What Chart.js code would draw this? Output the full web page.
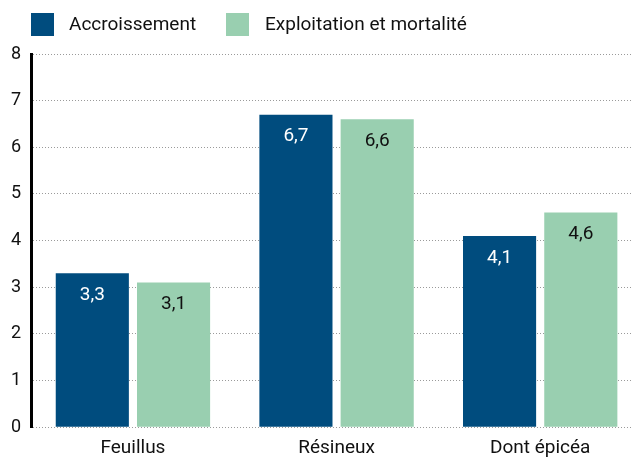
<!DOCTYPE html>
<html>
<head>
<meta charset="utf-8">
<script src="https://cdn.jsdelivr.net/npm/chart.js@4.4.0/dist/chart.umd.min.js"></script>
<style>
  html, body { margin: 0; padding: 0; background: #fff; overflow: hidden; }
  #wrap { width: 642px; height: 470px; }
</style>
</head>
<body>
<div id="wrap"><canvas id="chart"></canvas></div>
<script>
'use strict';

// ---- Data ----
const categories    = ['Feuillus', 'Résineux', 'Dont épicéa'];
const accroissement = [3.3, 6.7, 4.1];
const exploitation  = [3.1, 6.6, 4.6];
const seriesNames   = ['Accroissement', 'Exploitation et mortalité'];

const COLORS = {
  dark:  '#004c7e',
  light: '#99cfb0',
  grid:  '#9a9a9a',
  text:  '#111111',
};

const FONT = "Roboto, 'Liberation Sans', sans-serif";

// values printed inside the bars, near the top
const barLabels = {
  id: 'barLabels',
  afterDatasetsDraw(chart) {
    const { ctx } = chart;
    ctx.save();
    ctx.font = `19px ${FONT}`;
    ctx.textAlign = 'center';
    ctx.textBaseline = 'middle';
    chart.data.datasets.forEach((ds, i) => {
      chart.getDatasetMeta(i).data.forEach((bar, j) => {
        ctx.fillStyle = i === 0 ? '#ffffff' : COLORS.text;
        ctx.fillText(String(ds.data[j]).replace('.', ','), bar.x, bar.y + 22);
      });
    });
    ctx.restore();
  }
};

// simple legend: square swatch + label, top left
const topLegend = {
  id: 'topLegend',
  afterDraw(chart) {
    const { ctx } = chart;
    const items = [
      { x: 31,  textX: 69,  color: COLORS.dark },
      { x: 226, textX: 265, color: COLORS.light },
    ];
    ctx.save();
    ctx.font = `19px ${FONT}`;
    ctx.textBaseline = 'middle';
    ctx.textAlign = 'left';
    chart.data.datasets.forEach((ds, i) => {
      const it = items[i];
      ctx.fillStyle = it.color;
      ctx.fillRect(it.x, 13, 23, 23);
      ctx.fillStyle = COLORS.text;
      ctx.fillText(ds.label, it.textX, 25);
    });
    ctx.restore();
  }
};

new Chart(document.getElementById('chart'), {
  type: 'bar',
  data: {
    labels: categories,
    datasets: [
      { label: seriesNames[0], data: accroissement, backgroundColor: COLORS.dark },
      { label: seriesNames[1], data: exploitation,  backgroundColor: COLORS.light },
    ]
  },
  options: {
    responsive: true,
    maintainAspectRatio: false,
    animation: false,
    categoryPercentage: 0.798,
    barPercentage: 0.9,
    layout: { padding: { left: 1, top: 54, right: 0, bottom: 0 } },
    plugins: {
      legend: { display: false },
      tooltip: { enabled: false }
    },
    scales: {
      x: {
        grid: { display: false, drawTicks: false },
        border: { display: false },
        ticks: { color: COLORS.text, font: { family: FONT, size: 19 }, padding: 10 },
      },
      y: {
        min: 0,
        max: 8,
        grid: { color: COLORS.grid, drawTicks: false, lineWidth: 1 },
        border: { color: '#000000', width: 3, dash: [1, 2] },
        ticks: { color: COLORS.text, font: { family: FONT, size: 18 }, stepSize: 1, padding: 10 },
      }
    }
  },
  plugins: [barLabels, topLegend]
});
</script>
</body>
</html>
